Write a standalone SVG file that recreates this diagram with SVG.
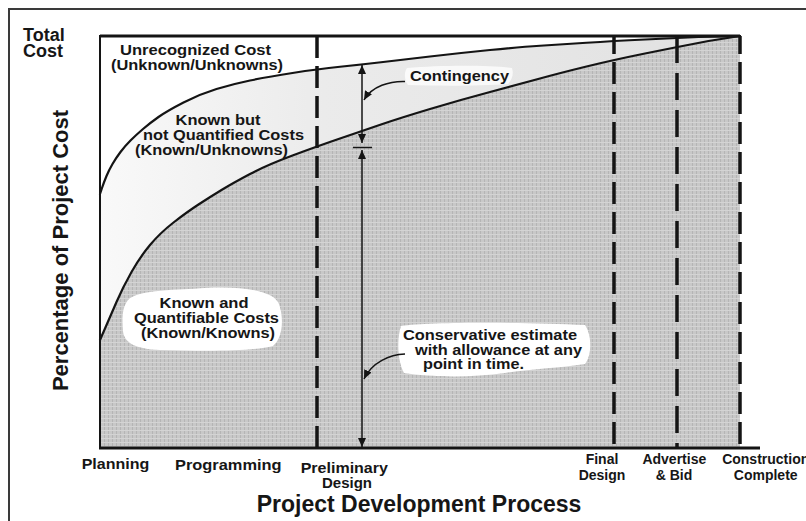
<svg xmlns="http://www.w3.org/2000/svg" width="806" height="521" viewBox="0 0 806 521">
<defs>
<style>
text{font-family:"Liberation Sans",Arial,Helvetica,sans-serif;font-weight:bold;fill:#161616}
.l{font-size:15px;text-anchor:middle}
.ax{font-size:15px;text-anchor:middle}
.ax2{font-size:14px;text-anchor:middle}
.curve{fill:none;stroke:#141414;stroke-width:2.2;stroke-linejoin:round;stroke-linecap:round}
.dash{stroke:#141414;stroke-width:3.5;stroke-dasharray:22 8}
.thin{fill:none;stroke:#141414;stroke-width:1.5}
.blob{fill:#ffffff}
.frame{stroke:#3a3a3a;stroke-width:2}
</style>
<pattern id="dk" width="4" height="4" patternUnits="userSpaceOnUse">
<rect width="4" height="4" fill="#c8c8c8"/>
<rect width="1" height="4" fill="#b5b5b5"/>
<rect y="2" width="4" height="1" fill="#d4d4d4"/>
</pattern>
<linearGradient id="lt" x1="100" y1="0" x2="740" y2="0" gradientUnits="userSpaceOnUse">
<stop offset="0" stop-color="#f9f9f9"/>
<stop offset="0.35" stop-color="#ebebeb"/>
<stop offset="1" stop-color="#e1e1e1"/>
</linearGradient>
<marker id="ah" markerWidth="9" markerHeight="8" refX="9" refY="4" orient="auto-start-reverse" markerUnits="userSpaceOnUse" viewBox="0 0 9 8">
<path d="M0,0 L9,4 L0,8 z" fill="#141414"/>
</marker>
</defs>

<g id="frame">
<line class="frame" x1="8" y1="9" x2="806" y2="9"/>
<line class="frame" x1="9" y1="8" x2="9" y2="521"/>
</g>

<g id="regions">
<path id="known-unknowns-area" fill="url(#lt)" d="M100,194 L102,188 Q104,182 106.5,176 Q109,170 112.5,164 Q116,158 120.5,152 Q125,146 130.5,140.5 Q136,135 143,129 Q150,123 158.5,117 Q167,111 183.5,102.5 Q200,94 216.5,89 Q233,84 250,80.5 Q267,77 292.5,73 Q318,69 340,66.75 Q362,64.5 381,62.25 Q400,60 430,56.5 Q460,53 490,50 Q520,47 540,45.75 Q560,44.5 586.5,42.75 Q613,41 645,39.5 Q677,38 698.5,37 Q720,36.5 730,36.2 L740,36 L740,448 L100,448 Z"/>
<path id="known-knowns-area" fill="url(#dk)" d="M100,340 L105,328.5 Q110,317 116.5,302 Q123,287 131.5,272 Q140,257 150,245 Q160,233 173.5,222.5 Q187,212 198.5,204.5 Q210,197 221.5,190 Q233,183 250,174 Q267,165 292.5,155.5 Q318,146 340,138.5 Q362,131 381,124.5 Q400,118 430,109 Q460,100 490,92 Q520,84 540,78.5 Q560,73 586.5,66.5 Q613,60 645,53.5 Q677,47 708.5,41 L740,36 L740,448 L100,448 Z"/>
</g>

<g id="label-backgrounds">
<path class="blob" d="M128,300 C138,289 180,290 205,288 C240,286 274,290 279,304 C284,318 283,338 273,346 C250,352 200,351 160,350 C136,349 124,343 123,331 C122,318 122,308 128,300 Z"/>
<path class="blob" d="M401,326 C430,322 520,322 585,325 C592,335 592,355 585,364 C560,368 530,369 505,373 C470,378 430,377 404,373 C397,360 397,338 401,326 Z"/>
<path class="blob" opacity="0.75" d="M407,68 C440,65 490,65 512,68 C514,74 512,80 508,84 C480,86 440,86 408,85 C404,80 404,72 407,68 Z"/>
</g>

<g id="curves">
<path class="curve" d="M100,194 L102,188 Q104,182 106.5,176 Q109,170 112.5,164 Q116,158 120.5,152 Q125,146 130.5,140.5 Q136,135 143,129 Q150,123 158.5,117 Q167,111 183.5,102.5 Q200,94 216.5,89 Q233,84 250,80.5 Q267,77 292.5,73 Q318,69 340,66.75 Q362,64.5 381,62.25 Q400,60 430,56.5 Q460,53 490,50 Q520,47 540,45.75 Q560,44.5 586.5,42.75 Q613,41 645,39.5 Q677,38 698.5,37 Q720,36.5 730,36.2 L740,36"/>
<path class="curve" d="M100,340 L105,328.5 Q110,317 116.5,302 Q123,287 131.5,272 Q140,257 150,245 Q160,233 173.5,222.5 Q187,212 198.5,204.5 Q210,197 221.5,190 Q233,183 250,174 Q267,165 292.5,155.5 Q318,146 340,138.5 Q362,131 381,124.5 Q400,118 430,109 Q460,100 490,92 Q520,84 540,78.5 Q560,73 586.5,66.5 Q613,60 645,53.5 Q677,47 708.5,41 L740,36"/>
</g>

<g id="phase-lines">
<line class="dash" x1="317" y1="36" x2="317" y2="448"/>
<line class="dash" x1="614" y1="36" x2="614" y2="448" stroke-dashoffset="4"/>
<line class="dash" x1="677" y1="36" x2="677" y2="448" style="stroke-dasharray:27 10"/>
<line class="dash" x1="740" y1="36" x2="740" y2="448" stroke-dashoffset="4"/>
</g>

<g id="axes">
<line x1="100" y1="36" x2="740" y2="36" stroke="#141414" stroke-width="3"/>
<line x1="100" y1="35" x2="100" y2="449" stroke="#141414" stroke-width="2"/>
<line x1="99" y1="448" x2="760" y2="448" stroke="#141414" stroke-width="3"/>
</g>

<g id="connectors">
<line class="thin" x1="362" y1="65" x2="362" y2="143" marker-start="url(#ah)" marker-end="url(#ah)"/>
<line class="thin" x1="362" y1="150" x2="362" y2="447" marker-start="url(#ah)" marker-end="url(#ah)"/>
<line class="thin" x1="353" y1="147.5" x2="372" y2="147.5"/>
<path class="thin" d="M405,81.5 C390,81 372,86 364,100" marker-end="url(#ah)"/>
<path class="thin" d="M405,354 C390,354.5 372,362 364,379" marker-end="url(#ah)"/>
</g>

<g id="label-total-cost">
<text font-size="18"><tspan x="23" y="40.5">Total</tspan><tspan x="23" y="57">Cost</tspan></text>
</g>
<g id="label-y-axis">
<text transform="translate(68,250.5) rotate(-90)" font-size="22" text-anchor="middle">Percentage of Project Cost</text>
</g>
<g id="label-unrecognized">
<text class="l"><tspan x="195.5" y="54.5" textLength="151" lengthAdjust="spacingAndGlyphs">Unrecognized Cost</tspan><tspan x="197" y="69.5" textLength="172" lengthAdjust="spacingAndGlyphs">(Unknown/Unknowns)</tspan></text>
</g>
<g id="label-known-unquantified">
<text class="l"><tspan x="218" y="125" textLength="85" lengthAdjust="spacingAndGlyphs">Known but</tspan><tspan x="223.5" y="140" textLength="161" lengthAdjust="spacingAndGlyphs">not Quantified Costs</tspan><tspan x="211.5" y="155" textLength="153" lengthAdjust="spacingAndGlyphs">(Known/Unknowns)</tspan></text>
</g>
<g id="label-contingency">
<text x="410" y="80.5" font-size="15" textLength="99" lengthAdjust="spacingAndGlyphs">Contingency</text>
</g>
<g id="label-known-knowns">
<text class="l"><tspan x="204" y="307.5" textLength="89" lengthAdjust="spacingAndGlyphs">Known and</tspan><tspan x="206.5" y="322.5" textLength="145" lengthAdjust="spacingAndGlyphs">Quantifiable Costs</tspan><tspan x="208" y="338" textLength="134" lengthAdjust="spacingAndGlyphs">(Known/Knowns)</tspan></text>
</g>
<g id="label-conservative">
<text class="l"><tspan x="490" y="340" textLength="174" lengthAdjust="spacingAndGlyphs">Conservative estimate</tspan><tspan x="498.5" y="354.5" textLength="167" lengthAdjust="spacingAndGlyphs">with allowance at any</tspan><tspan x="473.5" y="369" textLength="101" lengthAdjust="spacingAndGlyphs">point in time.</tspan></text>
</g>
<g id="x-labels">
<text class="ax" x="115.5" y="469" textLength="67.6" lengthAdjust="spacingAndGlyphs">Planning</text>
<text class="ax" x="228.3" y="470" textLength="106.7" lengthAdjust="spacingAndGlyphs">Programming</text>
<text class="ax"><tspan x="344.3" y="473" textLength="87.3" lengthAdjust="spacingAndGlyphs">Preliminary</tspan><tspan x="347" y="487.5">Design</tspan></text>
<text class="ax2"><tspan x="602" y="464">Final</tspan><tspan x="602" y="480">Design</tspan></text>
<text class="ax2"><tspan x="674.3" y="464">Advertise</tspan><tspan x="674" y="480">&amp; Bid</tspan></text>
<text class="ax2"><tspan x="765.7" y="464">Construction</tspan><tspan x="765.7" y="480">Complete</tspan></text>
</g>
<g id="label-x-axis">
<text x="419" y="512" font-size="23" text-anchor="middle">Project Development Process</text>
</g>
</svg>
